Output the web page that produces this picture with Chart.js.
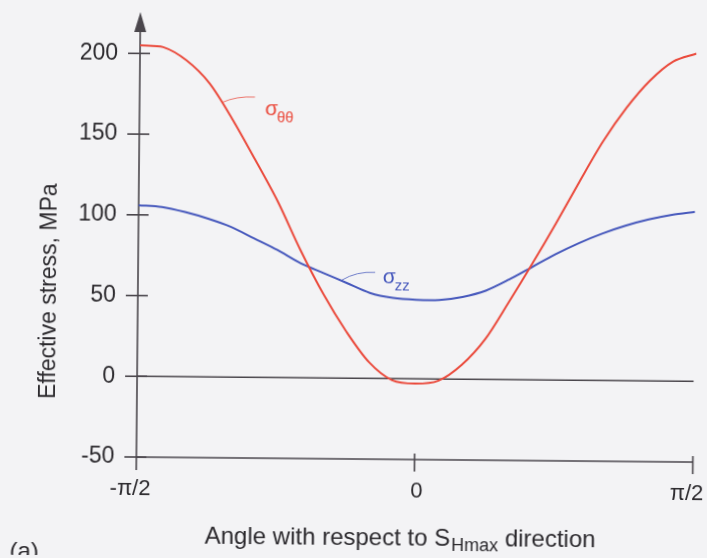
<!DOCTYPE html>
<html>
<head>
<meta charset="utf-8">
<title>Effective stress around the borehole</title>
<script src="https://cdn.jsdelivr.net/npm/chart.js@4.4.1/dist/chart.umd.min.js"></script>
<style>
  html, body { margin: 0; padding: 0; background: #f3f3f5; overflow: hidden; }
  /* the scanned figure sits slightly rotated on the page */
  #wrap { width: 707px; height: 558px; transform: rotate(0.52deg); transform-origin: 50% 50%; }
</style>
</head>
<body>
<div id="wrap"><canvas id="stressChart" width="707" height="558"></canvas></div>
<script>
/* ---- data (angle in degrees, stress in MPa) ---- */
const angles = [-90, -82.5, -75, -67.5, -60, -52.5, -45, -37.5, -30, -22.5, -15, -7.5, 0,
                7.5, 15, 22.5, 30, 37.5, 45, 52.5, 60, 67.5, 75, 82.5, 90];
const sigmaThetaTheta = [205, 204, 196, 182, 160, 135, 109, 79, 52, 29, 10, -1, -3,
                         -1, 9, 25, 48, 72, 97, 123, 148, 169, 186, 198, 203];
const sigmaZZ = [106, 105, 102, 98, 93, 86, 79, 71, 65, 59, 53, 50, 49,
                 49, 51, 55, 62, 70, 78, 85, 91, 96, 100, 103, 105];

const yTicks = [-50, 0, 50, 100, 150, 200];
const xTicks = [-90, 0, 90];
const xTickLabels = ['-π/2', '0', 'π/2'];

/* ---- style ---- */
const FONT  = "'Liberation Sans', Arial, sans-serif";
const INK   = '#2c2a2e';
const AXIS  = '#4a464c';
const RED   = '#ea4a3c';
const BLUE  = '#4658bc';

function toXY(xs, ys) {
  return xs.map((a, i) => ({ x: a, y: ys[i] }));
}

function line(ctx, x1, y1, x2, y2) {
  ctx.beginPath();
  ctx.moveTo(x1, y1);
  ctx.lineTo(x2, y2);
  ctx.stroke();
}

/* axes, ticks, zero line and arrow — drawn under the curves */
const axesPlugin = {
  id: 'axesPlugin',
  beforeDatasetsDraw(chart) {
    const { ctx, scales: { x, y } } = chart;
    const left   = x.getPixelForValue(-90);
    const right  = x.getPixelForValue(90);
    const bottom = y.getPixelForValue(-50);
    const zero   = y.getPixelForValue(0);
    const top    = y.top;

    ctx.save();
    ctx.strokeStyle = AXIS;
    ctx.lineWidth = 1.6;
    line(ctx, left, top + 10, left, bottom + 13);
    line(ctx, left, bottom, right, bottom);
    line(ctx, left, zero, right, zero);

    yTicks.forEach(v => {
      const py = y.getPixelForValue(v);
      line(ctx, left - 12, py, left + 10, py);
    });
    xTicks.slice(1).forEach(v => {
      const px = x.getPixelForValue(v);
      line(ctx, px, bottom - 6, px, bottom + 12);
    });

    /* arrow head on the stress axis */
    ctx.fillStyle = AXIS;
    ctx.beginPath();
    ctx.moveTo(left, top - 1);
    ctx.lineTo(left - 6, top + 19);
    ctx.lineTo(left + 6, top + 19);
    ctx.closePath();
    ctx.fill();
    ctx.restore();
  },

  afterDraw(chart) {
    const { ctx, scales: { x, y } } = chart;
    ctx.save();
    ctx.fillStyle = INK;

    /* x tick labels */
    const offsets = [-6, 2, -6];
    ctx.font = `22px ${FONT}`;
    ctx.textAlign = 'center';
    ctx.textBaseline = 'alphabetic';
    xTicks.forEach((v, i) => {
      ctx.fillText(xTickLabels[i], x.getPixelForValue(v) + offsets[i], 497);
    });

    /* y axis title */
    ctx.save();
    ctx.translate(56, 294);
    ctx.rotate(-Math.PI / 2);
    ctx.font = `23px ${FONT}`;
    ctx.textAlign = 'center';
    ctx.fillText('Effective stress, MPa', 0, 0);
    ctx.restore();

    /* x axis title with subscript */
    let tx = 207;
    ctx.textAlign = 'left';
    ctx.font = `24px ${FONT}`;
    const part1 = 'Angle with respect to S';
    ctx.fillText(part1, tx, 545);
    tx += ctx.measureText(part1).width;
    ctx.font = `18px ${FONT}`;
    ctx.fillText('Hmax', tx + 1, 550);
    tx += ctx.measureText('Hmax').width + 1;
    ctx.font = `24px ${FONT}`;
    ctx.fillText(' direction', tx, 545);

    /* panel letter */
    ctx.fillText('(a)', 12, 562);

    /* curve labels with leader lines */
    const labels = [
      { color: RED,  lead: [[-63.4, 170], [-52.7, 173.6]], at: [-49.4, 162.4], sub: 'θθ' },
      { color: BLUE, lead: [[-24.1, 60.7], [-13.3, 65.7]], at: [-10.8, 58.9],  sub: 'zz' }
    ];
    labels.forEach(l => {
      const x1 = x.getPixelForValue(l.lead[0][0]), y1 = y.getPixelForValue(l.lead[0][1]);
      const x2 = x.getPixelForValue(l.lead[1][0]), y2 = y.getPixelForValue(l.lead[1][1]);
      ctx.strokeStyle = l.color;
      ctx.globalAlpha = 0.75;
      ctx.lineWidth = 1;
      ctx.beginPath();
      ctx.moveTo(x1, y1);
      ctx.quadraticCurveTo((x1 + x2) / 2 - 2, Math.min(y1, y2) - 1, x2, y2);
      ctx.stroke();
      ctx.globalAlpha = 1;

      const lx = x.getPixelForValue(l.at[0]), ly = y.getPixelForValue(l.at[1]);
      ctx.fillStyle = l.color;
      ctx.font = `21px ${FONT}`;
      ctx.fillText('σ', lx, ly);
      ctx.font = `15px ${FONT}`;
      ctx.fillText(l.sub, lx + 12, ly + 7);
    });
    ctx.restore();
  }
};

new Chart(document.getElementById('stressChart'), {
  type: 'line',
  data: {
    datasets: [
      {
        label: 'σθθ',
        data: toXY(angles, sigmaThetaTheta),
        borderColor: RED,
        borderWidth: 2,
        pointRadius: 0,
        tension: 0.3,
        fill: false
      },
      {
        label: 'σzz',
        data: toXY(angles, sigmaZZ),
        borderColor: BLUE,
        borderWidth: 2,
        pointRadius: 0,
        tension: 0.3,
        fill: false
      }
    ]
  },
  options: {
    responsive: false,
    animation: false,
    devicePixelRatio: 1,
    layout: { padding: { left: 0, right: 12.5, top: 15, bottom: 0 } },
    plugins: { legend: { display: false }, tooltip: { enabled: false } },
    scales: {
      x: {
        type: 'linear',
        min: -90, max: 90,
        grid: { display: false },
        border: { display: false },
        ticks: { display: false },
        afterFit: s => { s.height = 99; }
      },
      y: {
        type: 'linear',
        min: -50, max: 225,
        grid: { display: false, drawTicks: false },
        border: { display: false },
        ticks: { color: INK, padding: 22, font: { family: FONT, size: 23 } },
        afterBuildTicks: s => { s.ticks = yTicks.map(v => ({ value: v })); },
        afterFit: s => { s.width = 138; s.paddingTop = 0; s.paddingBottom = 0; }
      }
    }
  },
  plugins: [axesPlugin]
});
</script>
</body>
</html>
